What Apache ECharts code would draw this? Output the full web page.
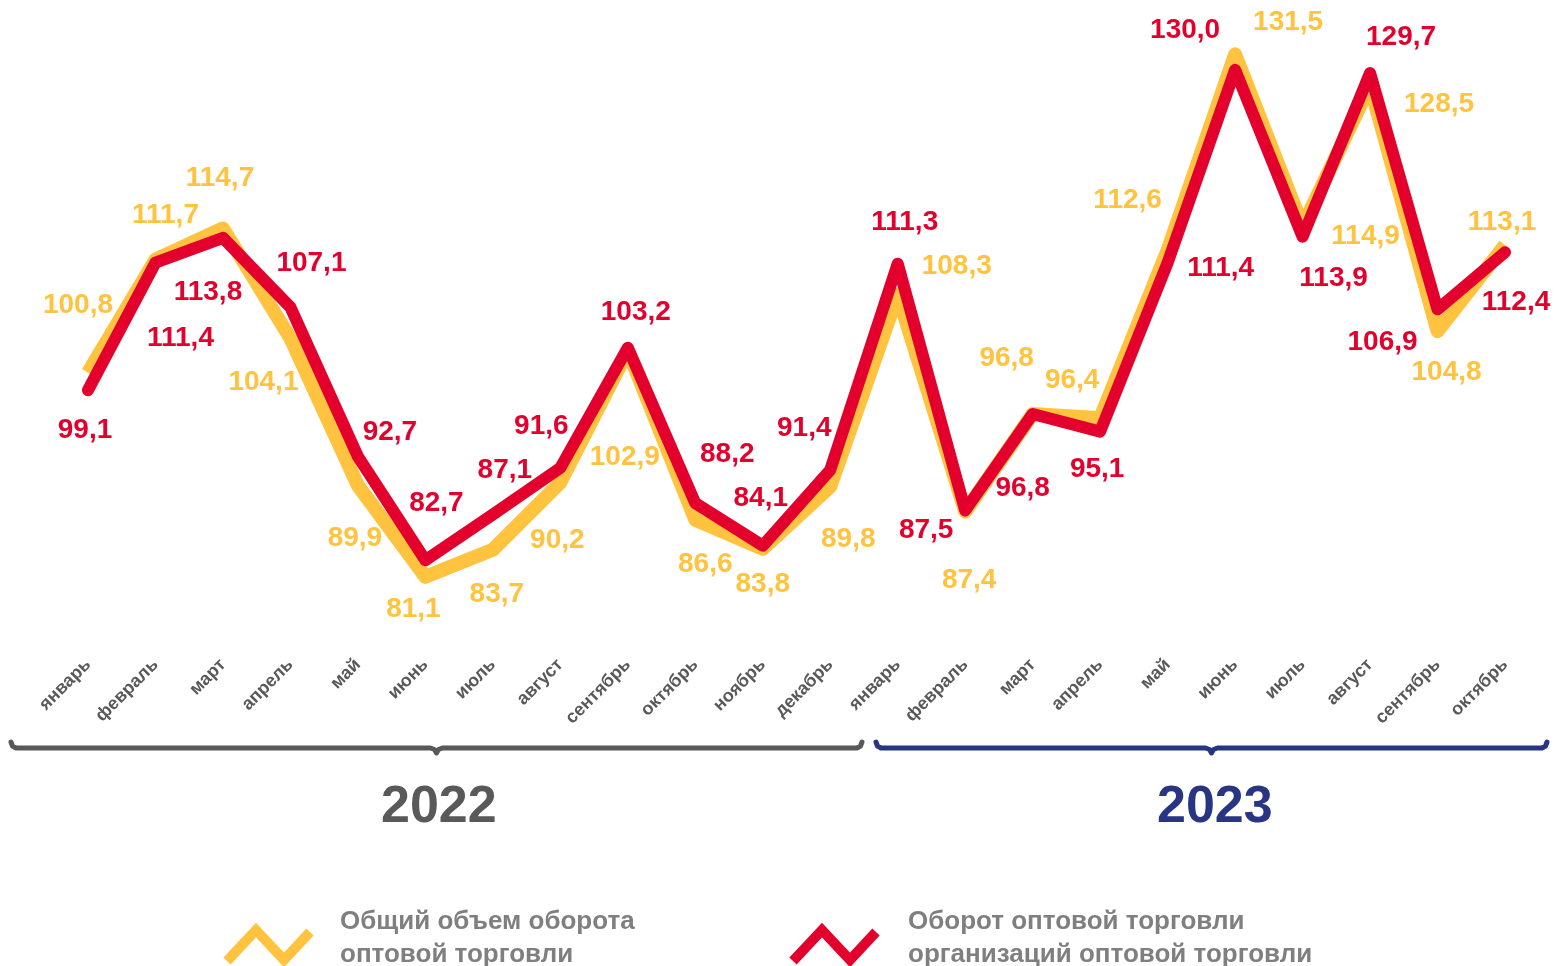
<!DOCTYPE html>
<html>
<head>
<meta charset="utf-8">
<script src="https://cdn.jsdelivr.net/npm/echarts@6/dist/echarts.min.js"></script>
<style>
  html, body { margin: 0; padding: 0; background: #fff; }
  #chart { width: 1555px; height: 966px; }
</style>
</head>
<body>
<div id="chart"></div>
<script>
// месяцы 2022 - 2023
var months = ['январь','февраль','март','апрель','май','июнь','июль','август','сентябрь','октябрь','ноябрь','декабрь',
              'январь','февраль','март','апрель','май','июнь','июль','август','сентябрь','октябрь'];
var totalTurnover = [100.8,111.7,114.7,104.1,89.9,81.1,83.7,90.2,102.9,86.6,83.8,89.8,
                     108.3,87.4,96.8,96.4,112.6,131.5,114.9,128.5,104.8,113.1];
var orgTurnover = [99.1,111.4,113.8,107.1,92.7,82.7,87.1,91.6,103.2,88.2,84.1,91.4,
                   111.3,87.5,96.8,95.1,111.4,130.0,113.9,129.7,106.9,112.4];
var years = ['2022', '2023'];
var seriesNames = ['Общий объем оборота\nоптовой торговли', 'Оборот оптовой торговли\nорганизаций оптовой торговли'];

// смещения подписей от точек
var totalOffsets = [[-10,-67],[10,-44],[-3,-50],[-27,44],[-3,53],[-12,33],[4,44],[-3,58],[-3,107],[10,45],[0,36],[18,53],
                    [59,-29],[4,69],[-26,-56],[-28,-38],[-40,-50],[53,-32],[63,10],[69,19],[9,41],[-3,-23]];
var orgOffsets = [[-3,40],[25,76],[-15,55],[21,-44],[32,-24],[11,-57],[12,-44],[-19,-42],[8,-35],[32,-49],[-2,-47],[-26,-42],
                  [7,-41],[-39,20],[-10,74],[-3,38],[53,6],[-50,-40],[31,42],[31,-36],[-55,33],[11,50]];

var YELLOW = '#FFC340';
var RED = '#E3002C';
var FONT = '"Liberation Sans", Arial, sans-serif';

function withLabels(values, offsets){
  return values.map(function(v, i){
    return { value: v, label: { offset: offsets[i] } };
  });
}

// фигурная скобка под годом
function bracket(x1, x2, y){
  var m = (x1 + x2) / 2;
  return [[x1, y - 6], [x1 + 1.5, y - 2], [x1 + 5, y], [m - 6, y], [m - 2, y + 1.5], [m, y + 5],
          [m + 2, y + 1.5], [m + 6, y], [x2 - 5, y], [x2 - 1.5, y - 2], [x2, y - 6]];
}

var myChart = echarts.init(document.getElementById('chart'));

var labelFmt = function(p){ return p.value.toFixed(1).replace('.', ','); };

var option = {
  animation: false,
  grid: { left: 88, right: 50, top: 18, bottom: 326 },
  xAxis: {
    type: 'category',
    data: months,
    boundaryGap: false,
    axisLine: { show: false },
    axisTick: { show: false },
    axisLabel: {
      rotate: 45,
      margin: 22,
      interval: 0,
      color: '#595959',
      fontSize: 18,
      fontWeight: 'bold',
      fontFamily: FONT
    }
  },
  yAxis: {
    type: 'value',
    min: 75,
    max: 135,
    show: false
  },
  series: [
    {
      name: seriesNames[0],
      type: 'line',
      data: withLabels(totalTurnover, totalOffsets),
      symbol: 'circle',
      symbolSize: 1,
      itemStyle: { color: YELLOW },
      lineStyle: { color: YELLOW, width: 14, join: 'round', cap: 'butt' },
      label: {
        show: true,
        position: 'inside',
        color: YELLOW,
        fontSize: 28,
        fontWeight: 'bold',
        fontFamily: FONT,
        formatter: labelFmt
      },
      z: 2
    },
    {
      name: seriesNames[1],
      type: 'line',
      data: withLabels(orgTurnover, orgOffsets),
      symbol: 'circle',
      symbolSize: 1,
      itemStyle: { color: RED },
      lineStyle: { color: RED, width: 12, join: 'round', cap: 'round' },
      label: {
        show: true,
        position: 'inside',
        color: RED,
        fontSize: 28,
        fontWeight: 'bold',
        fontFamily: FONT,
        formatter: labelFmt
      },
      z: 3
    }
  ],
  graphic: [
    { type: 'polyline', shape: { points: bracket(11, 862, 748) },
      style: { fill: null, stroke: '#595959', lineWidth: 5, lineCap: 'round', lineJoin: 'round' } },
    { type: 'polyline', shape: { points: bracket(876, 1547, 748) },
      style: { fill: null, stroke: '#283583', lineWidth: 5, lineCap: 'round', lineJoin: 'round' } },
    { type: 'text', left: 381, top: 782,
      style: { text: years[0], fill: '#595959', font: 'bold 52px ' + FONT } },
    { type: 'text', left: 1157, top: 782,
      style: { text: years[1], fill: '#283583', font: 'bold 52px ' + FONT } },
    // легенда
    { type: 'polyline', shape: { points: [[227,961],[256,930],[284,960],[310,932]] },
      style: { stroke: YELLOW, lineWidth: 10, fill: null } },
    { type: 'text', left: 340, top: 905,
      style: { text: seriesNames[0], fill: '#7F7F7F', font: 'bold 26px ' + FONT, lineHeight: 33 } },
    { type: 'polyline', shape: { points: [[793,961],[822,930],[850,960],[876,932]] },
      style: { stroke: RED, lineWidth: 10, fill: null } },
    { type: 'text', left: 908, top: 905,
      style: { text: seriesNames[1], fill: '#7F7F7F', font: 'bold 26px ' + FONT, lineHeight: 33 } }
  ]
};

myChart.setOption(option);
window.addEventListener('resize', function(){ myChart.resize(); });
</script>
</body>
</html>
